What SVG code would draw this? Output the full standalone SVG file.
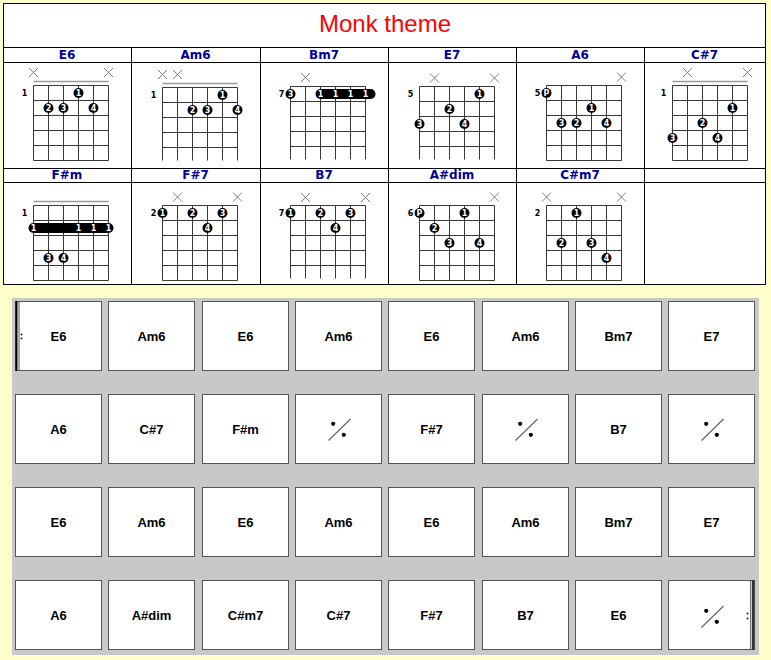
<svg xmlns="http://www.w3.org/2000/svg" xmlns:xlink="http://www.w3.org/1999/xlink" width="771" height="660" viewBox="0 0 771 660">
<style>
.title{font-family:"Liberation Sans",Arial,sans-serif;font-size:24px;fill:#ff0000;text-anchor:middle}
.hdr{font-family:"DejaVu Sans",Verdana,sans-serif;font-weight:bold;font-size:12px;fill:#000099;text-anchor:middle}
.tl{stroke:#000;stroke-width:1;fill:none}
.tbg{stroke:#000;stroke-width:1;fill:#fff}
.grid{stroke:#383838;stroke-width:1;fill:none}
.nut{stroke:#999;stroke-width:1.5}
.xm{stroke:#808080;stroke-width:1;fill:none}
.fr{font-family:"DejaVu Sans",Verdana,sans-serif;font-weight:bold;font-size:8px;fill:#000;text-anchor:middle}
.fn{font-family:"DejaVu Sans",Verdana,sans-serif;font-weight:bold;font-size:8px;fill:#fff;text-anchor:middle}
.dot{fill:#000}
.cell{fill:#fff;stroke:#555;stroke-width:1}
.cl{font-family:"Liberation Sans",Arial,sans-serif;font-weight:bold;font-size:13px;fill:#000;text-anchor:middle}
.sl{stroke:#666;stroke-width:1.2}
</style>
<defs>
<path id="gB" class="grid" d="M0 0V75M15 0V75M30 0V75M45 0V75M60 0V75M75 0V75M0 0H75M0 15H75M0 30H75M0 45H75M0 60H75M0 75H75"/>
<path id="gO" class="grid" d="M0 0V73M15 0V73M30 0V73M45 0V73M60 0V73M75 0V73M0 0H75M0 15H75M0 30H75M0 45H75M0 60H75"/>
<path id="xm" class="xm" d="M-4.5 -4.5L4.5 4.5M4.5 -4.5L-4.5 4.5"/>
<g id="slash">
<line class="sl" x1="-10" y1="11.5" x2="12" y2="-10"/>
<circle cx="-5.3" cy="-5.2" r="2.1" fill="#000"/>
<circle cx="5.3" cy="5.8" r="2.1" fill="#000"/>
</g>
</defs>
<rect x="0" y="0" width="771" height="660" fill="#ffffcc"/>

<g id="chord-table">
<rect x="3.5" y="3.5" width="762" height="281" class="tbg"/>
<path class="tl" d="M3.5 47.5H765.5M3.5 62.5H765.5M3.5 168.5H765.5M3.5 182.5H765.5M131.5 47.5V284.5M260.5 47.5V284.5M388.5 47.5V284.5M516.5 47.5V284.5M644.5 47.5V284.5"/>
<text class="title" x="385" y="32">Monk theme</text>
<text class="hdr" x="67" y="59">E6</text>
<text class="hdr" x="195.5" y="59">Am6</text>
<text class="hdr" x="324" y="59">Bm7</text>
<text class="hdr" x="452" y="59">E7</text>
<text class="hdr" x="580" y="59">A6</text>
<text class="hdr" x="704.5" y="59">C#7</text>
<text class="hdr" x="67" y="178.5">F#m</text>
<text class="hdr" x="195.5" y="178.5">F#7</text>
<text class="hdr" x="324" y="178.5">B7</text>
<text class="hdr" x="452" y="178.5">A#dim</text>
<text class="hdr" x="580" y="178.5">C#m7</text>
</g>

<g id="dia-E6" transform="translate(33.5,85.5)">
<use xlink:href="#gB"/>
<line class="nut" x1="0" y1="-4" x2="75" y2="-4"/>
<use xlink:href="#xm" x="0" y="-13"/><use xlink:href="#xm" x="75" y="-13"/>
<text class="fr" x="-9" y="10.5">1</text>
<circle class="dot" cx="45" cy="7.5" r="5"/><text class="fn" x="45" y="10.5">1</text>
<circle class="dot" cx="15" cy="22.5" r="5"/><text class="fn" x="15" y="25.5">2</text>
<circle class="dot" cx="30" cy="22.5" r="5"/><text class="fn" x="30" y="25.5">3</text>
<circle class="dot" cx="60" cy="22.5" r="5"/><text class="fn" x="60" y="25.5">4</text>
</g>

<g id="dia-Am6" transform="translate(162.5,87.5)">
<use xlink:href="#gO"/>
<line class="nut" x1="0" y1="-4" x2="75" y2="-4"/>
<use xlink:href="#xm" x="0" y="-13"/><use xlink:href="#xm" x="15" y="-13"/>
<text class="fr" x="-9" y="10.5">1</text>
<circle class="dot" cx="60" cy="7.5" r="5"/><text class="fn" x="60" y="10.5">1</text>
<circle class="dot" cx="30" cy="22.5" r="5"/><text class="fn" x="30" y="25.5">2</text>
<circle class="dot" cx="45" cy="22.5" r="5"/><text class="fn" x="45" y="25.5">3</text>
<circle class="dot" cx="75" cy="22.5" r="5"/><text class="fn" x="75" y="25.5">4</text>
</g>

<g id="dia-Bm7" transform="translate(290.5,86.5)">
<use xlink:href="#gO"/>
<use xlink:href="#xm" x="15" y="-9"/>
<text class="fr" x="-9" y="10.5">7</text>
<circle class="dot" cx="0" cy="7.5" r="5"/><text class="fn" x="0" y="10.5">3</text>
<rect class="dot" x="25" y="2.5" width="60" height="10" rx="5"/>
<text class="fn" x="30" y="10.5">1</text><text class="fn" x="45" y="10.5">1</text><text class="fn" x="60" y="10.5">1</text><text class="fn" x="75" y="10.5">1</text>
</g>

<g id="dia-E7" transform="translate(419.5,86.5)">
<use xlink:href="#gO"/>
<use xlink:href="#xm" x="15" y="-8.5"/><use xlink:href="#xm" x="75" y="-8.5"/>
<text class="fr" x="-9" y="10.5">5</text>
<circle class="dot" cx="60" cy="7.5" r="5"/><text class="fn" x="60" y="10.5">1</text>
<circle class="dot" cx="30" cy="22.5" r="5"/><text class="fn" x="30" y="25.5">2</text>
<circle class="dot" cx="0" cy="37.5" r="5"/><text class="fn" x="0" y="40.5">3</text>
<circle class="dot" cx="45" cy="37.5" r="5"/><text class="fn" x="45" y="40.5">4</text>
</g>

<g id="dia-A6" transform="translate(546.5,85.5)">
<use xlink:href="#gB"/>
<use xlink:href="#xm" x="75" y="-8.5"/>
<text class="fr" x="-9" y="10.5">5</text>
<circle class="dot" cx="0" cy="7.5" r="5"/><text class="fn" x="0" y="10.5">P</text>
<circle class="dot" cx="45" cy="22.5" r="5"/><text class="fn" x="45" y="25.5">1</text>
<circle class="dot" cx="30" cy="37.5" r="5"/><text class="fn" x="30" y="40.5">2</text>
<circle class="dot" cx="15" cy="37.5" r="5"/><text class="fn" x="15" y="40.5">3</text>
<circle class="dot" cx="60" cy="37.5" r="5"/><text class="fn" x="60" y="40.5">4</text>
</g>

<g id="dia-Cs7" transform="translate(672.5,85.5)">
<use xlink:href="#gB"/>
<line class="nut" x1="0" y1="-4" x2="75" y2="-4"/>
<use xlink:href="#xm" x="15" y="-13"/><use xlink:href="#xm" x="75" y="-13"/>
<text class="fr" x="-9" y="10.5">1</text>
<circle class="dot" cx="60" cy="22.5" r="5"/><text class="fn" x="60" y="25.5">1</text>
<circle class="dot" cx="30" cy="37.5" r="5"/><text class="fn" x="30" y="40.5">2</text>
<circle class="dot" cx="0" cy="52.5" r="5"/><text class="fn" x="0" y="55.5">3</text>
<circle class="dot" cx="45" cy="52.5" r="5"/><text class="fn" x="45" y="55.5">4</text>
</g>

<g id="dia-Fsm" transform="translate(33.5,205.5)">
<use xlink:href="#gB"/>
<line class="nut" x1="0" y1="-4" x2="75" y2="-4"/>
<text class="fr" x="-9" y="10.5">1</text>
<rect class="dot" x="-5" y="17.5" width="85" height="10" rx="5"/>
<text class="fn" x="0" y="25.5">1</text><text class="fn" x="45" y="25.5">1</text><text class="fn" x="60" y="25.5">1</text><text class="fn" x="75" y="25.5">1</text>
<circle class="dot" cx="15" cy="52.5" r="5"/><text class="fn" x="15" y="55.5">3</text>
<circle class="dot" cx="30" cy="52.5" r="5"/><text class="fn" x="30" y="55.5">4</text>
</g>

<g id="dia-Fs7" transform="translate(162.5,205.5)">
<use xlink:href="#gB"/>
<use xlink:href="#xm" x="15" y="-8.5"/><use xlink:href="#xm" x="75" y="-8.5"/>
<text class="fr" x="-9" y="10.5">2</text>
<circle class="dot" cx="0" cy="7.5" r="5"/><text class="fn" x="0" y="10.5">1</text>
<circle class="dot" cx="30" cy="7.5" r="5"/><text class="fn" x="30" y="10.5">2</text>
<circle class="dot" cx="60" cy="7.5" r="5"/><text class="fn" x="60" y="10.5">3</text>
<circle class="dot" cx="45" cy="22.5" r="5"/><text class="fn" x="45" y="25.5">4</text>
</g>

<g id="dia-B7" transform="translate(290.5,205.5)">
<use xlink:href="#gO"/>
<use xlink:href="#xm" x="15" y="-8"/><use xlink:href="#xm" x="75" y="-8"/>
<text class="fr" x="-9" y="10.5">7</text>
<circle class="dot" cx="0" cy="7.5" r="5"/><text class="fn" x="0" y="10.5">1</text>
<circle class="dot" cx="30" cy="7.5" r="5"/><text class="fn" x="30" y="10.5">2</text>
<circle class="dot" cx="60" cy="7.5" r="5"/><text class="fn" x="60" y="10.5">3</text>
<circle class="dot" cx="45" cy="22.5" r="5"/><text class="fn" x="45" y="25.5">4</text>
</g>

<g id="dia-Asdim" transform="translate(419.5,205.5)">
<use xlink:href="#gB"/>
<use xlink:href="#xm" x="75" y="-8.5"/>
<text class="fr" x="-9" y="10.5">6</text>
<circle class="dot" cx="0" cy="7.5" r="5"/><text class="fn" x="0" y="10.5">P</text>
<circle class="dot" cx="45" cy="7.5" r="5"/><text class="fn" x="45" y="10.5">1</text>
<circle class="dot" cx="15" cy="22.5" r="5"/><text class="fn" x="15" y="25.5">2</text>
<circle class="dot" cx="30" cy="37.5" r="5"/><text class="fn" x="30" y="40.5">3</text>
<circle class="dot" cx="60" cy="37.5" r="5"/><text class="fn" x="60" y="40.5">4</text>
</g>

<g id="dia-Csm7" transform="translate(546.5,205.5)">
<use xlink:href="#gB"/>
<use xlink:href="#xm" x="0" y="-8.5"/><use xlink:href="#xm" x="75" y="-8.5"/>
<text class="fr" x="-9" y="10.5">2</text>
<circle class="dot" cx="30" cy="7.5" r="5"/><text class="fn" x="30" y="10.5">1</text>
<circle class="dot" cx="15" cy="37.5" r="5"/><text class="fn" x="15" y="40.5">2</text>
<circle class="dot" cx="45" cy="37.5" r="5"/><text class="fn" x="45" y="40.5">3</text>
<circle class="dot" cx="60" cy="52.5" r="5"/><text class="fn" x="60" y="55.5">4</text>
</g>

<rect id="grid-panel" x="12" y="298" width="747" height="357" fill="#c8c8c8"/>

<g id="r1">
<g id="c1-1"><rect class="cell" x="15.5" y="301.5" width="86" height="69"/><text class="cl" x="58.5" y="341">E6</text>
<line x1="16.5" y1="301" x2="16.5" y2="371" stroke="#000" stroke-width="2"/><line x1="19" y1="302" x2="19" y2="370" stroke="#555" stroke-width="1"/>
<circle cx="21.5" cy="334.5" r="0.9" fill="#000"/><circle cx="21.5" cy="338.5" r="0.9" fill="#000"/></g>
<g id="c1-2"><rect class="cell" x="108.5" y="301.5" width="86" height="69"/><text class="cl" x="151.5" y="341">Am6</text></g>
<g id="c1-3"><rect class="cell" x="202.5" y="301.5" width="86" height="69"/><text class="cl" x="245.5" y="341">E6</text></g>
<g id="c1-4"><rect class="cell" x="295.5" y="301.5" width="86" height="69"/><text class="cl" x="338.5" y="341">Am6</text></g>
<g id="c1-5"><rect class="cell" x="388.5" y="301.5" width="86" height="69"/><text class="cl" x="431.5" y="341">E6</text></g>
<g id="c1-6"><rect class="cell" x="482.5" y="301.5" width="86" height="69"/><text class="cl" x="525.5" y="341">Am6</text></g>
<g id="c1-7"><rect class="cell" x="575.5" y="301.5" width="86" height="69"/><text class="cl" x="618.5" y="341">Bm7</text></g>
<g id="c1-8"><rect class="cell" x="668.5" y="301.5" width="86" height="69"/><text class="cl" x="711.5" y="341">E7</text></g>
</g>

<g id="r2">
<g id="c2-1"><rect class="cell" x="15.5" y="394.5" width="86" height="69"/><text class="cl" x="58.5" y="434">A6</text></g>
<g id="c2-2"><rect class="cell" x="108.5" y="394.5" width="86" height="69"/><text class="cl" x="151.5" y="434">C#7</text></g>
<g id="c2-3"><rect class="cell" x="202.5" y="394.5" width="86" height="69"/><text class="cl" x="245.5" y="434">F#m</text></g>
<g id="c2-4"><rect class="cell" x="295.5" y="394.5" width="86" height="69"/><use xlink:href="#slash" x="338.5" y="429"/></g>
<g id="c2-5"><rect class="cell" x="388.5" y="394.5" width="86" height="69"/><text class="cl" x="431.5" y="434">F#7</text></g>
<g id="c2-6"><rect class="cell" x="482.5" y="394.5" width="86" height="69"/><use xlink:href="#slash" x="525.5" y="429"/></g>
<g id="c2-7"><rect class="cell" x="575.5" y="394.5" width="86" height="69"/><text class="cl" x="618.5" y="434">B7</text></g>
<g id="c2-8"><rect class="cell" x="668.5" y="394.5" width="86" height="69"/><use xlink:href="#slash" x="711.5" y="429"/></g>
</g>

<g id="r3">
<g id="c3-1"><rect class="cell" x="15.5" y="487.5" width="86" height="69"/><text class="cl" x="58.5" y="527">E6</text></g>
<g id="c3-2"><rect class="cell" x="108.5" y="487.5" width="86" height="69"/><text class="cl" x="151.5" y="527">Am6</text></g>
<g id="c3-3"><rect class="cell" x="202.5" y="487.5" width="86" height="69"/><text class="cl" x="245.5" y="527">E6</text></g>
<g id="c3-4"><rect class="cell" x="295.5" y="487.5" width="86" height="69"/><text class="cl" x="338.5" y="527">Am6</text></g>
<g id="c3-5"><rect class="cell" x="388.5" y="487.5" width="86" height="69"/><text class="cl" x="431.5" y="527">E6</text></g>
<g id="c3-6"><rect class="cell" x="482.5" y="487.5" width="86" height="69"/><text class="cl" x="525.5" y="527">Am6</text></g>
<g id="c3-7"><rect class="cell" x="575.5" y="487.5" width="86" height="69"/><text class="cl" x="618.5" y="527">Bm7</text></g>
<g id="c3-8"><rect class="cell" x="668.5" y="487.5" width="86" height="69"/><text class="cl" x="711.5" y="527">E7</text></g>
</g>

<g id="r4">
<g id="c4-1"><rect class="cell" x="15.5" y="580.5" width="86" height="69"/><text class="cl" x="58.5" y="620">A6</text></g>
<g id="c4-2"><rect class="cell" x="108.5" y="580.5" width="86" height="69"/><text class="cl" x="151.5" y="620">A#dim</text></g>
<g id="c4-3"><rect class="cell" x="202.5" y="580.5" width="86" height="69"/><text class="cl" x="245.5" y="620">C#m7</text></g>
<g id="c4-4"><rect class="cell" x="295.5" y="580.5" width="86" height="69"/><text class="cl" x="338.5" y="620">C#7</text></g>
<g id="c4-5"><rect class="cell" x="388.5" y="580.5" width="86" height="69"/><text class="cl" x="431.5" y="620">F#7</text></g>
<g id="c4-6"><rect class="cell" x="482.5" y="580.5" width="86" height="69"/><text class="cl" x="525.5" y="620">B7</text></g>
<g id="c4-7"><rect class="cell" x="575.5" y="580.5" width="86" height="69"/><text class="cl" x="618.5" y="620">E6</text></g>
<g id="c4-8"><rect class="cell" x="668.5" y="580.5" width="86" height="69"/><use xlink:href="#slash" x="711.5" y="616"/>
<circle cx="747.5" cy="613.5" r="0.9" fill="#000"/><circle cx="747.5" cy="618.5" r="0.9" fill="#000"/>
<line x1="750.5" y1="581" x2="750.5" y2="650" stroke="#777" stroke-width="1"/><line x1="753" y1="580" x2="753" y2="650" stroke="#333" stroke-width="2.5"/></g>
</g>
</svg>
